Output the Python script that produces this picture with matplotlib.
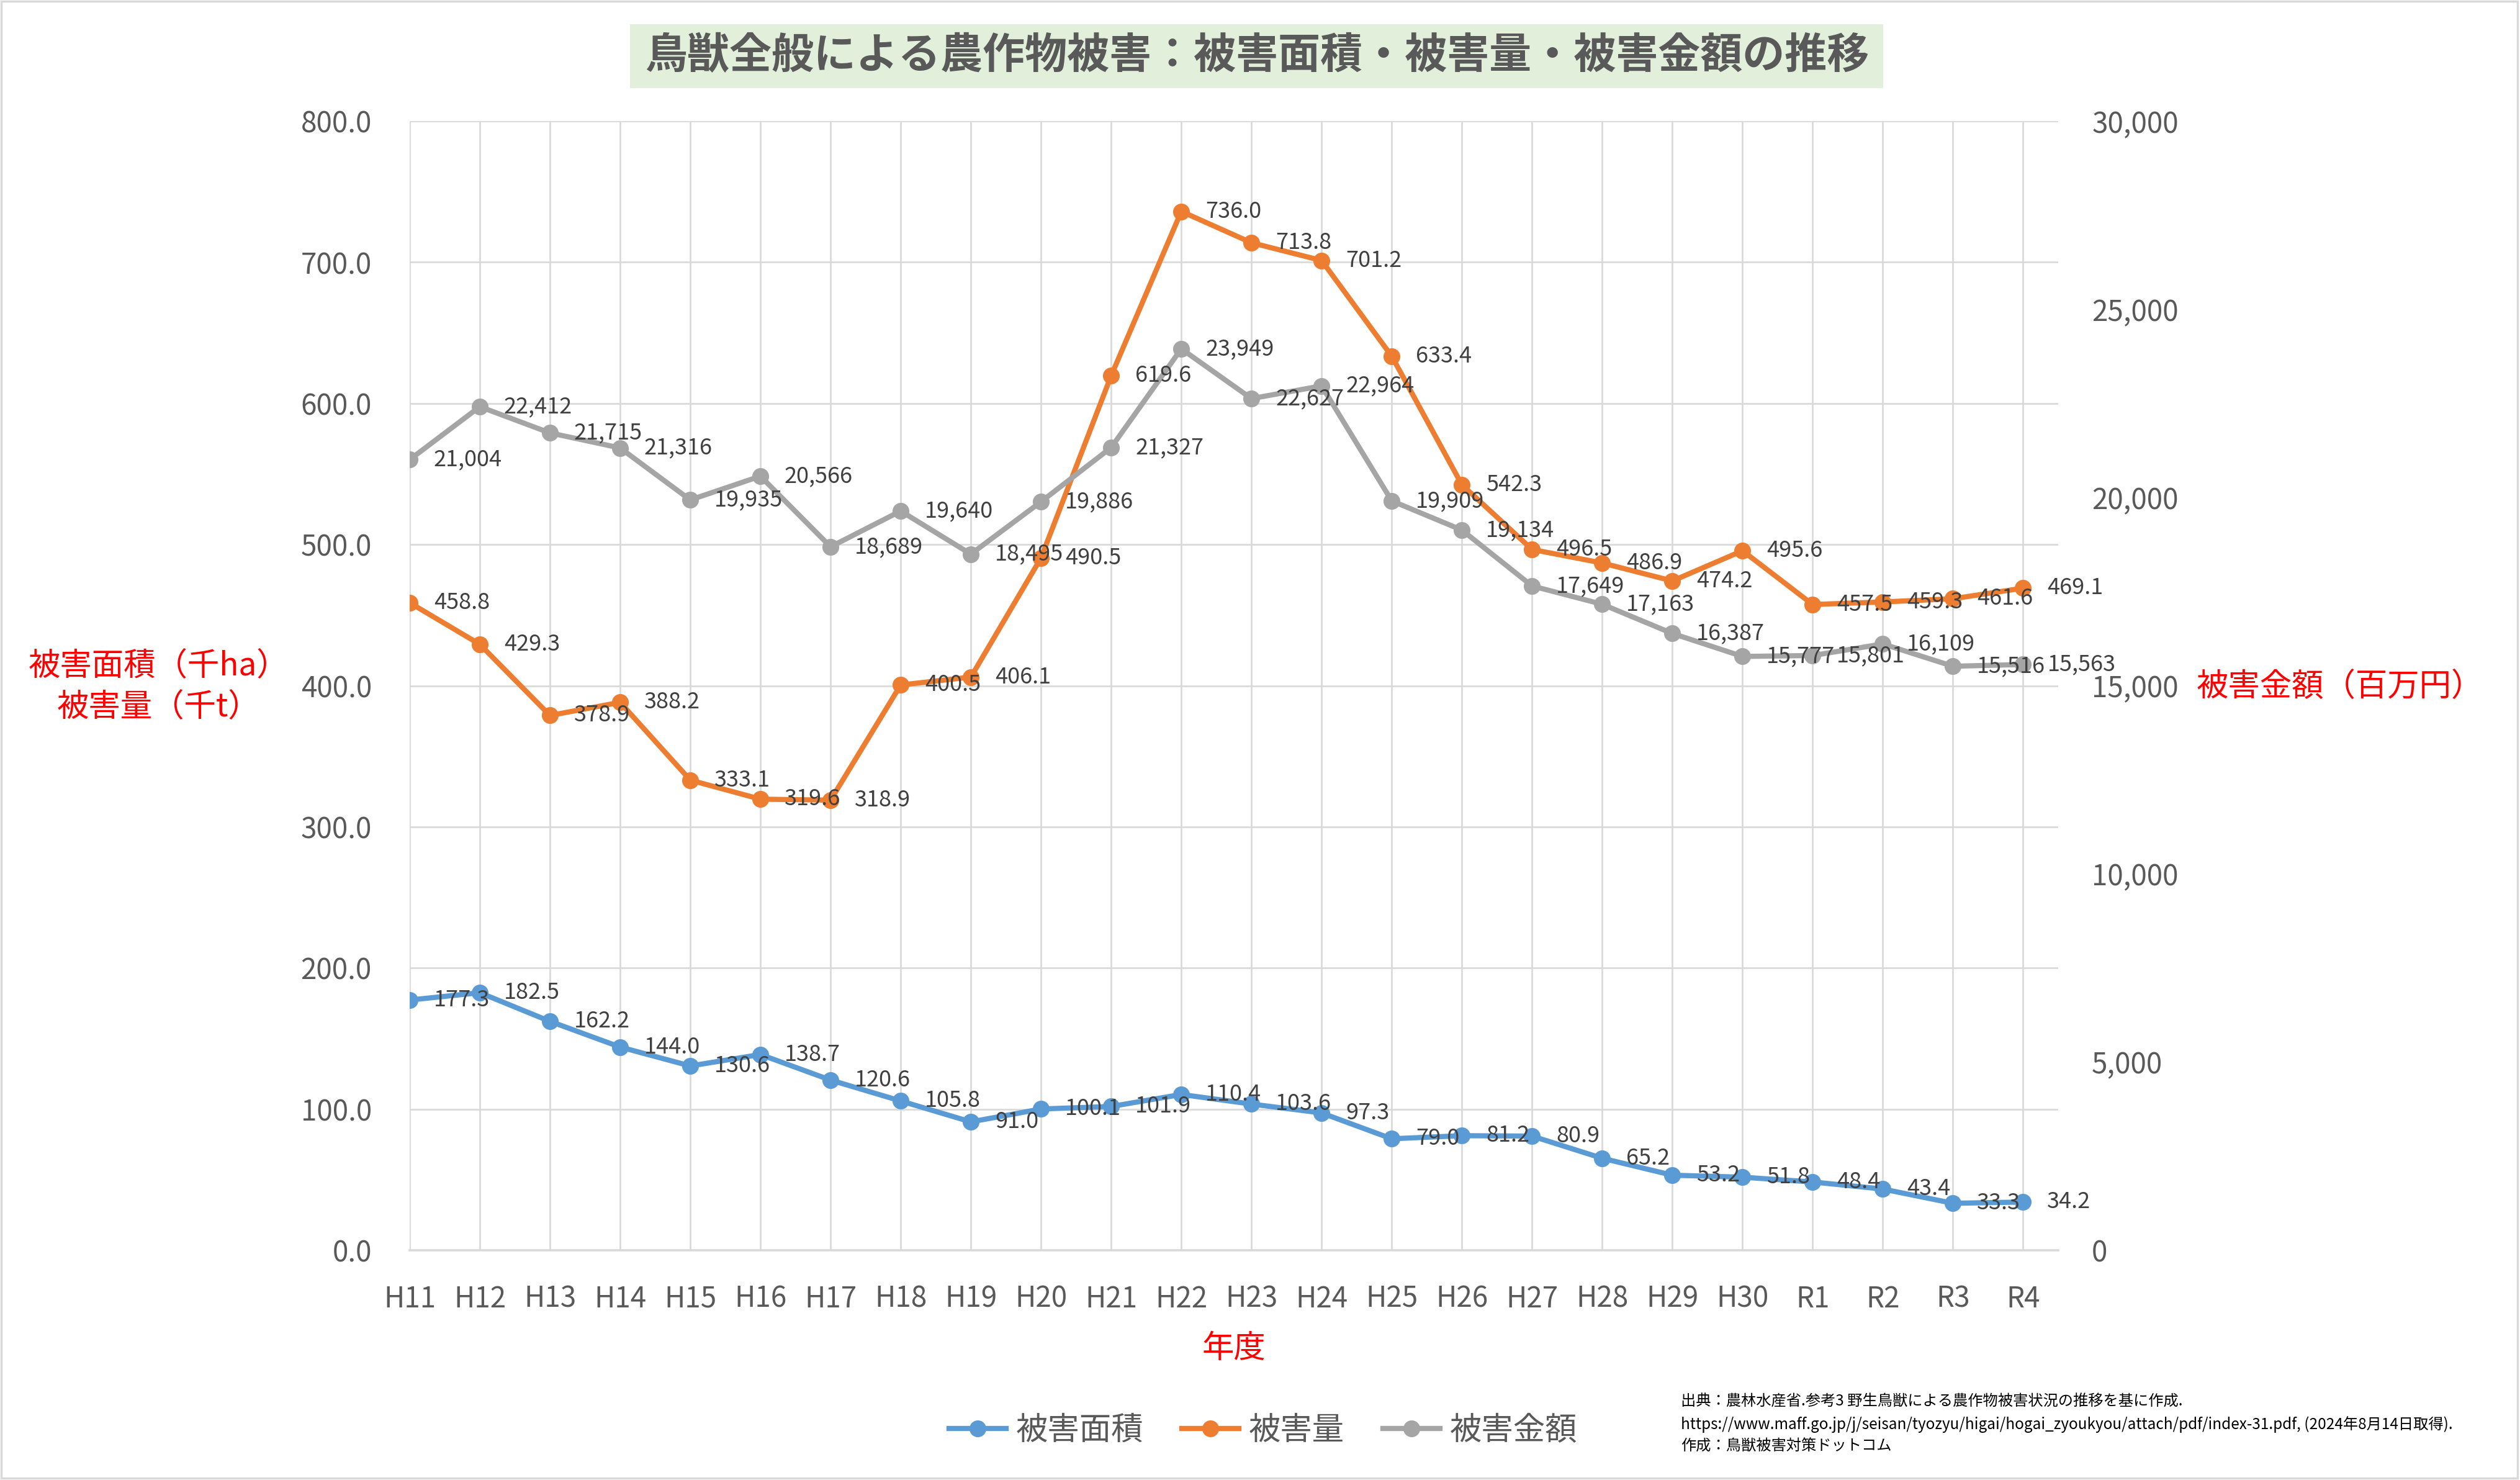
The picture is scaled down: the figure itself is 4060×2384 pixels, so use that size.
import matplotlib
matplotlib.use("Agg")
import matplotlib.pyplot as plt
from matplotlib.lines import Line2D
from matplotlib.patches import Rectangle
from matplotlib.ticker import FuncFormatter, MultipleLocator

plt.rcParams['font.family'] = ['Noto Sans CJK JP', 'DejaVu Sans']

years = ["H11", "H12", "H13", "H14", "H15", "H16", "H17", "H18", "H19", "H20",
         "H21", "H22", "H23", "H24", "H25", "H26", "H27", "H28", "H29", "H30",
         "R1", "R2", "R3", "R4"]
area = [177.3, 182.5, 162.2, 144.0, 130.6, 138.7, 120.6, 105.8, 91.0, 100.1,
        101.9, 110.4, 103.6, 97.3, 79.0, 81.2, 80.9, 65.2, 53.2, 51.8,
        48.4, 43.4, 33.3, 34.2]
amount = [458.8, 429.3, 378.9, 388.2, 333.1, 319.6, 318.9, 400.5, 406.1, 490.5,
          619.6, 736.0, 713.8, 701.2, 633.4, 542.3, 496.5, 486.9, 474.2, 495.6,
          457.5, 459.3, 461.6, 469.1]
money = [21004, 22412, 21715, 21316, 19935, 20566, 18689, 19640, 18495, 19886,
         21327, 23949, 22627, 22964, 19909, 19134, 17649, 17163, 16387, 15777,
         15801, 16109, 15516, 15563]

series_names = ["被害面積", "被害量", "被害金額"]
colors = ["#5B9BD5", "#ED7D31", "#A5A5A5"]
title = "鳥獣全般による農作物被害：被害面積・被害量・被害金額の推移"
ylabel_left = "被害面積（千ha）\n被害量（千t）"
ylabel_right = "被害金額（百万円）"
xlabel = "年度"
source_lines = ["出典：農林水産省.参考3 野生鳥獣による農作物被害状況の推移を基に作成.",
                "https://www.maff.go.jp/j/seisan/tyozyu/higai/hogai_zyoukyou/attach/pdf/index-31.pdf, (2024年8月14日取得).",
                "作成：鳥獣被害対策ドットコム"]

W, H = 4060, 2384
DPI = 100
fig = plt.figure(figsize=(W / DPI, H / DPI), dpi=DPI)
fig.patch.set_facecolor("white")

def fx(px):
    return px / W

def fy(py):
    return 1 - py / H

# chart border
fig.patches.append(Rectangle((fx(2), fy(2381)), fx(4054), 2379 / H, transform=fig.transFigure,
                             facecolor="none", edgecolor="#D9D9D9", lw=2.5, zorder=0))

ax = fig.add_axes([fx(660), fy(2014), fx(3316) - fx(660), fy(195) - fy(2014)])
ax2 = ax.twinx()

x = list(range(len(years)))
grid_c = "#D9D9D9"
tick_c = "#595959"
lab_c = "#404040"
lw = 6.0
ms = 18.5

ax.set_xlim(0, len(years) - 0.5)
ax.set_ylim(0, 800)
ax2.set_ylim(0, 30000)
ax.yaxis.set_major_locator(MultipleLocator(100))
ax2.yaxis.set_major_locator(MultipleLocator(5000))
ax.yaxis.set_major_formatter(FuncFormatter(lambda v, p: f"{v:.1f}"))
ax2.yaxis.set_major_formatter(FuncFormatter(lambda v, p: f"{int(v):,}"))
ax.set_xticks(x)
ax.set_xticklabels(years)

ax.grid(True, axis="both", color=grid_c, lw=1.9, zorder=0)
ax.set_axisbelow(True)
for s in ["top", "left", "right"]:
    ax.spines[s].set_visible(False)
    ax2.spines[s].set_visible(False)
ax.spines["bottom"].set_color(grid_c)
ax.spines["bottom"].set_linewidth(2.6)
ax2.spines["bottom"].set_visible(False)

ax.tick_params(axis="y", length=0, pad=44, labelsize=33, labelcolor=tick_c)
ax.tick_params(axis="x", length=0, pad=39, labelsize=33, labelcolor=tick_c)
ax2.tick_params(axis="y", length=0, pad=39, labelsize=33, labelcolor=tick_c)

ax.plot(x, area, color=colors[0], lw=lw, marker="o", ms=ms, solid_capstyle="round", zorder=3)
ax.plot(x, amount, color=colors[1], lw=lw, marker="o", ms=ms, solid_capstyle="round", zorder=3)
ax2.plot(x, money, color=colors[2], lw=lw, marker="o", ms=ms, solid_capstyle="round", zorder=3)

# data labels (drawn on top axes)
for i, v in enumerate(area):
    ax2.annotate(f"{v:.1f}", xy=(i, v), xycoords=ax.transData, xytext=(28, 0),
                 textcoords="offset points", ha="left", va="center", fontsize=26,
                 color=lab_c, zorder=5)
for i, v in enumerate(amount):
    ax2.annotate(f"{v:.1f}", xy=(i, v), xycoords=ax.transData, xytext=(28, 0),
                 textcoords="offset points", ha="left", va="center", fontsize=26,
                 color=lab_c, zorder=5)
for i, v in enumerate(money):
    ax2.annotate(f"{v:,}", xy=(i, v), xycoords=ax2.transData, xytext=(28, 0),
                 textcoords="offset points", ha="left", va="center", fontsize=26,
                 color=lab_c, zorder=5)

# axis titles
fig.text(fx(256), fy(1106), ylabel_left, ha="center", va="center", fontsize=37,
         color="#FF0000", linespacing=1.3)
fig.text(fx(3770), fy(1106), ylabel_right, ha="center", va="center", fontsize=37,
         color="#FF0000")
fig.text(fx(1988), fy(2172), xlabel, ha="center", va="center", fontsize=37, color="#FF0000")

# title
fig.patches.append(Rectangle((fx(1015), fy(142)), fx(3034) - fx(1015), 103 / H,
                             transform=fig.transFigure, facecolor="#E2EFDA",
                             edgecolor="none", zorder=1))
fig.text(fx(2025), fy(90), title, ha="center", va="center", fontsize=49,
         fontweight="bold", color="#595959", zorder=2)

# legend
handles = [Line2D([0], [0], color=c, lw=lw, marker="o", ms=ms) for c in colors]
fig.legend(handles, series_names, loc="center", bbox_to_anchor=(fx(2035), fy(2304)),
           ncol=3, frameon=False, fontsize=37, labelcolor=tick_c, handlelength=1.8,
           handletextpad=0.3, columnspacing=1.2)

# source
for k, (line, yy) in enumerate(zip(source_lines, [2258, 2295, 2330])):
    fig.text(fx(2708), fy(yy), line, ha="left", va="center", fontsize=17.5, color="#000000")

fig.savefig("out.png", dpi=DPI, facecolor="white")
